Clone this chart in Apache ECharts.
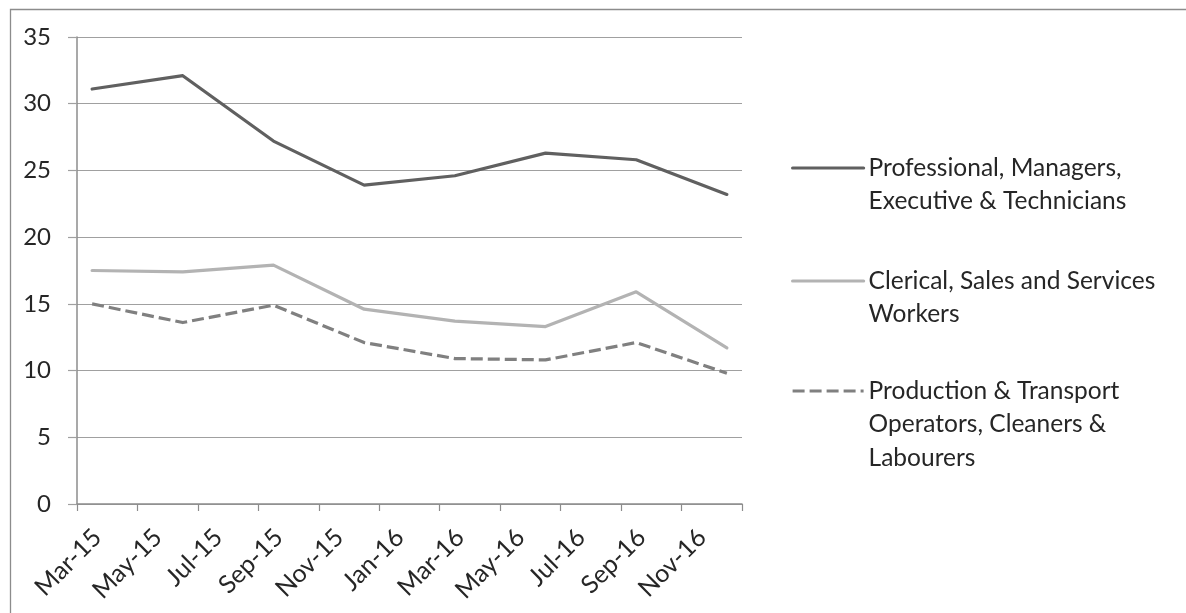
<!DOCTYPE html>
<html>
<head>
<meta charset="utf-8">
<script src="https://cdn.jsdelivr.net/npm/echarts@6/dist/echarts.min.js"></script>
<style>
  html, body { margin: 0; padding: 0; background: #ffffff; }
  #chart { width: 1186px; height: 613px; }
</style>
</head>
<body>
<div id="chart"></div>
<script>
// Monthly category axis (each month is one band; labels every second month)
const months = [
  'Mar-15', 'Apr-15', 'May-15', 'Jun-15', 'Jul-15', 'Aug-15', 'Sep-15', 'Oct-15',
  'Nov-15', 'Dec-15', 'Jan-16', 'Feb-16', 'Mar-16', 'Apr-16', 'May-16', 'Jun-16',
  'Jul-16', 'Aug-16', 'Sep-16', 'Oct-16', 'Nov-16', 'Dec-16'
];

// Quarterly observation months
const sampleMonths = ['Mar-15', 'Jun-15', 'Sep-15', 'Dec-15', 'Mar-16', 'Jun-16', 'Sep-16', 'Dec-16'];

const seriesNames = [
  'Professional, Managers, Executive & Technicians',
  'Clerical, Sales and Services Workers',
  'Production & Transport Operators, Cleaners & Labourers'
];
const legendLabels = [
  'Professional, Managers,\nExecutive & Technicians',
  'Clerical, Sales and Services\nWorkers',
  'Production & Transport\nOperators, Cleaners &\nLabourers'
];

const professional = [31.1, 32.1, 27.2, 23.9, 24.6, 26.3, 25.8, 23.2];
const clerical     = [17.5, 17.4, 17.9, 14.6, 13.7, 13.3, 15.9, 11.7];
const production   = [15.0, 13.6, 14.9, 12.1, 10.9, 10.8, 12.1, 9.8];

const yMin = 0, yMax = 35, yStep = 5;

const FONT = 'Lato';
const TEXT = '#262626';
const LINE_H = 33.5;

function pairs(values) {
  return sampleMonths.map((m, i) => [m, values[i]]);
}

const styles = [
  { color: '#606060', width: 3.2, type: 'solid' },
  { color: '#b3b3b3', width: 3.2, type: 'solid' },
  { color: '#808080', width: 3.2, type: [12, 5] }
];
const seriesValues = [professional, clerical, production];

// one legend block per series, first text line level with the sample line
const legendFirstLine = [168, 281, 391];

const chart = echarts.init(document.getElementById('chart'), null, { renderer: 'canvas' });

chart.setOption({
  animation: false,
  backgroundColor: '#ffffff',
  graphic: [{
    type: 'rect',
    left: 8, top: 7,
    shape: { width: 1300, height: 700 },
    style: { fill: 'none', stroke: '#8c8c8c', lineWidth: 1.3 },
    silent: true
  }],
  grid: { left: 77, right: 444, top: 37, bottom: 109, containLabel: false },
  legend: seriesNames.map((name, i) => {
    const n = legendLabels[i].split('\n').length;
    // blank leading lines keep the sample line level with the first text line
    const text = '\n'.repeat(n - 1) + legendLabels[i];
    return {
      data: [name],
      orient: 'vertical',
      left: 791,
      top: legendFirstLine[i] - (2 * n - 1) * LINE_H / 2,
      padding: 0,
      itemGap: 0,
      itemWidth: 71,
      itemHeight: 14,
      selectedMode: false,
      itemStyle: { opacity: 0 },
      lineStyle: { width: 3.2 },
      formatter: () => text,
      textStyle: {
        fontFamily: FONT, fontSize: 24.5, color: TEXT,
        lineHeight: LINE_H
      }
    };
  }),
  xAxis: {
    type: 'category',
    data: months,
    boundaryGap: true,
    axisLine: { show: true, lineStyle: { color: '#8c8c8c', width: 1.5 } },
    axisTick: { show: true, interval: 1, length: 7, alignWithLabel: false, lineStyle: { color: '#8c8c8c', width: 1.2 } },
    axisLabel: {
      interval: 1, rotate: 45, margin: 17,
      verticalAlign: 'top',
      padding: [0, 5, 0, 0],
      fontFamily: FONT, fontSize: 25, color: TEXT
    },
    splitLine: { show: false }
  },
  yAxis: {
    type: 'value',
    min: yMin, max: yMax, interval: yStep,
    axisLine: { show: true, lineStyle: { color: '#8c8c8c', width: 1.5 } },
    axisTick: { show: true, length: 9, lineStyle: { color: '#a0a0a0', width: 1.2 } },
    axisLabel: { margin: 26, fontFamily: FONT, fontSize: 24, color: TEXT },
    splitLine: { show: true, lineStyle: { color: '#a0a0a0', width: 1.2 } }
  },
  series: seriesNames.map((name, i) => ({
    name,
    type: 'line',
    data: pairs(seriesValues[i]),
    symbol: 'none',
    smooth: false,
    color: styles[i].color,
    lineStyle: {
      color: styles[i].color,
      width: styles[i].width,
      type: styles[i].type,
      join: 'round',
      cap: i === 2 ? 'butt' : 'round'
    },
    emphasis: { disabled: true },
    z: 3 - i
  }))
});
</script>
</body>
</html>
